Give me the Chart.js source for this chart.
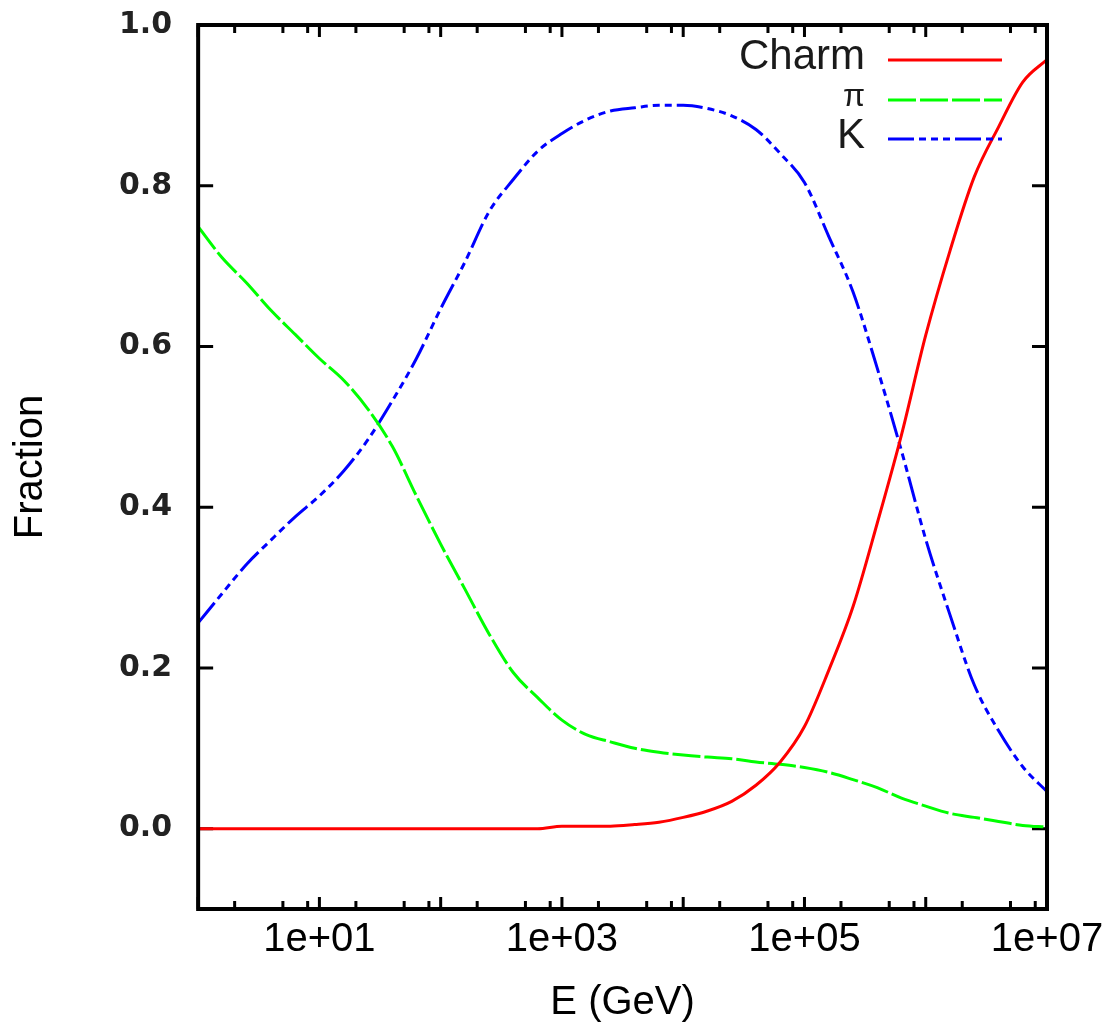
<!DOCTYPE html>
<html>
<head>
<meta charset="utf-8">
<script src="https://cdn.jsdelivr.net/npm/chart.js@4.4.0/dist/chart.umd.min.js"></script>
<style>
  html, body { margin: 0; padding: 0; background: #fff; }
  #wrap { width: 1111px; height: 1027px; }
</style>
</head>
<body>
<div id="wrap"><canvas id="myChart" width="1111" height="1027"></canvas></div>
<script>
// energies in GeV (every 0.2 decade)
const energy = [1, 1.585, 2.512, 3.981, 6.31, 10, 15.85, 25.12, 39.81, 63.1,
  100, 158.5, 251.2, 398.1, 631, 1000, 1585, 2512, 3981, 6310,
  1e4, 1.585e4, 2.512e4, 3.981e4, 6.31e4, 1e5, 1.585e5, 2.512e5, 3.981e5, 6.31e5,
  1e6, 1.585e6, 2.512e6, 3.981e6, 6.31e6, 1e7];

const charm = [0, 0, 0, 0, 0, 0, 0, 0, 0, 0,
  0, 0, 0, 0, 0, 0.003, 0.003, 0.003, 0.005, 0.008,
  0.014, 0.022, 0.034, 0.054, 0.083, 0.127, 0.197, 0.276, 0.380, 0.49,
  0.614, 0.719, 0.811, 0.873, 0.929, 0.957];

const pion = [0.749, 0.71, 0.679, 0.645, 0.615, 0.585, 0.558, 0.522, 0.476, 0.414,
  0.354, 0.298, 0.242, 0.194, 0.163, 0.135, 0.117, 0.108, 0.100, 0.095,
  0.0915, 0.089, 0.087, 0.083, 0.080, 0.076, 0.070, 0.061, 0.051, 0.038,
  0.028, 0.019, 0.014, 0.009, 0.004, 0.002];

const kaon = [0.256, 0.293, 0.329, 0.359, 0.388, 0.414, 0.445, 0.484, 0.532, 0.585,
  0.647, 0.705, 0.768, 0.808, 0.843, 0.865, 0.882, 0.893, 0.897, 0.9,
  0.9, 0.896, 0.887, 0.870, 0.840, 0.804, 0.737, 0.668, 0.573, 0.47,
  0.36, 0.266, 0.179, 0.122, 0.077, 0.046];

const yTicks = [0, 0.2, 0.4, 0.6, 0.8, 1.0];
const xDecades = [1, 10, 100, 1e3, 1e4, 1e5, 1e6, 1e7];
const xMinor = [2, 5, 8, 20, 50, 80, 200, 500, 800, 2e3, 5e3, 8e3,
  2e4, 5e4, 8e4, 2e5, 5e5, 8e5, 2e6, 5e6, 8e6];
const xTickValues = [10, 1e3, 1e5, 1e7];
const xTickLabels = ["1e+01", "1e+03", "1e+05", "1e+07"];

const toPoints = (values) => values.map((v, i) => ({ x: energy[i], y: v }));

// gnuplot style frame: inward ticks under the curves, border on top
const frame = {
  id: "frame",
  beforeDatasetsDraw(chart) {
    const { ctx, chartArea: { left, right, top, bottom }, scales: { x, y } } = chart;
    ctx.save();
    ctx.strokeStyle = "#000";
    ctx.lineWidth = 3;
    ctx.beginPath();
    yTicks.forEach((v) => {
      const py = y.getPixelForValue(v);
      ctx.moveTo(left, py); ctx.lineTo(left + 15, py);
      ctx.moveTo(right, py); ctx.lineTo(right - 15, py);
    });
    xDecades.forEach((v) => {
      const px = x.getPixelForValue(v);
      ctx.moveTo(px, bottom); ctx.lineTo(px, bottom - 12);
      ctx.moveTo(px, top); ctx.lineTo(px, top + 12);
    });
    xMinor.forEach((v) => {
      const px = x.getPixelForValue(v);
      ctx.moveTo(px, bottom); ctx.lineTo(px, bottom - 8);
      ctx.moveTo(px, top); ctx.lineTo(px, top + 8);
    });
    ctx.stroke();
    ctx.restore();
  },
  afterDatasetsDraw(chart) {
    const { ctx, chartArea: { left, right, top, bottom } } = chart;
    ctx.save();
    ctx.strokeStyle = "#000";
    ctx.lineWidth = 4;
    ctx.strokeRect(left, top, right - left, bottom - top);
    ctx.restore();
  },
};

// key in the top right corner, text right aligned with the sample on its right
const key = {
  id: "key",
  afterDraw(chart) {
    const { ctx } = chart;
    const rows = [
      { y: 60, size: 42 },
      { y: 100, size: 32 },
      { y: 139, size: 42 },
    ];
    ctx.save();
    chart.data.datasets.forEach((ds, i) => {
      const row = rows[i];
      ctx.font = `${row.size}px "Liberation Sans", Arial, sans-serif`;
      ctx.fillStyle = "#1a1a1a";
      ctx.textAlign = "right";
      ctx.textBaseline = "middle";
      ctx.fillText(ds.label, 865, row.y - 3);
      ctx.strokeStyle = ds.borderColor;
      ctx.lineWidth = 3;
      ctx.setLineDash(ds.borderDash || []);
      ctx.beginPath();
      ctx.moveTo(888, row.y);
      ctx.lineTo(1002, row.y);
      ctx.stroke();
    });
    ctx.restore();
  },
};

const ctx = document.getElementById("myChart").getContext("2d");
new Chart(ctx, {
  type: "line",
  data: {
    datasets: [
      { label: "Charm", data: toPoints(charm), borderColor: "#ff0000", borderWidth: 3, pointRadius: 0, borderDash: [], cubicInterpolationMode: "monotone" },
      { label: "π", data: toPoints(pion), borderColor: "#00ff00", borderWidth: 3, pointRadius: 0, borderDash: [28, 4], cubicInterpolationMode: "monotone" },
      { label: "K", data: toPoints(kaon), borderColor: "#0000ff", borderWidth: 3, pointRadius: 0, borderDash: [26, 5, 7, 5, 7, 5, 7, 5], cubicInterpolationMode: "monotone" },
    ],
  },
  options: {
    responsive: false,
    animation: false,
    devicePixelRatio: 1,
    layout: { padding: { top: 25, right: 64, bottom: 0, left: 0 } },
    plugins: { legend: { display: false }, tooltip: { enabled: false } },
    scales: {
      x: {
        type: "logarithmic",
        min: 1,
        max: 1e7,
        afterBuildTicks: (scale) => { scale.ticks = xTickValues.map((v) => ({ value: v })); },
        ticks: {
          autoSkip: false,
          maxRotation: 0,
          padding: 7,
          color: "#000",
          font: { family: "Liberation Sans", size: 40 },
          callback: (v) => { const i = xTickValues.indexOf(v); return i >= 0 ? xTickLabels[i] : ""; },
        },
        grid: { display: false, drawTicks: false },
        border: { display: false },
        title: {
          display: true,
          text: "E (GeV)",
          color: "#000",
          font: { family: "Liberation Sans", size: 40 },
          padding: { top: 8, bottom: 0 },
        },
      },
      y: {
        min: -0.1,
        max: 1.0,
        afterBuildTicks: (scale) => { scale.ticks = yTicks.map((v) => ({ value: v })); },
        afterFit: (scale) => { scale.paddingTop = 0; },
        ticks: {
          padding: 26,
          color: "#222",
          font: { family: "DejaVu Sans", size: 30, weight: "bold" },
          callback: (v) => v.toFixed(1),
        },
        grid: { display: false, drawTicks: false },
        border: { display: false },
        title: {
          display: true,
          text: "Fraction",
          color: "#000",
          font: { family: "Liberation Sans", size: 40 },
          padding: { top: 7, bottom: 38 },
        },
      },
    },
  },
  plugins: [frame, key],
});
</script>
</body>
</html>
